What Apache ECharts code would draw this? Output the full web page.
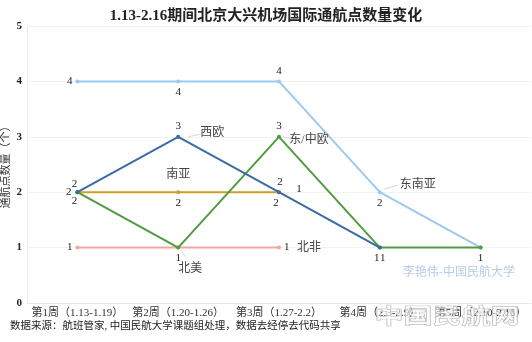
<!DOCTYPE html>
<html><head><meta charset="utf-8">
<script src="https://cdn.jsdelivr.net/npm/echarts@6/dist/echarts.min.js"></script>
<style>html,body{margin:0;padding:0;background:#fff}#c{width:532px;height:342px}</style>
</head><body><div id="c"></div>
<script>
var categories = ['第1周（1.13-1.19）','第2周（1.20-1.26）','第3周（1.27-2.2）','第4周（2.3-2.9）','第5周（2.10-2.16）'];
var seaValues = [4, 4, 4, 2, 1];         // 东南亚
var westEuValues = [2, 3, 2, 1, null];   // 西欧
var eastEuValues = [2, 1, 3, 1, 1];      // 东/中欧
var southAsiaValues = [2, 2, 2, null, null]; // 南亚
var northAfricaValues = [1, 1, 1, null, null]; // 北非
var yTicks = [0, 1, 2, 3, 4, 5];

var serif = '"Liberation Serif","Noto Sans CJK SC",serif';
var chart = echarts.init(document.getElementById('c'));

// label settings per point: [show, position, offsetX, offsetY]
function mkSeries(name, data, color, lab, z){
  return {
    name: name, type: 'line', z: z,
    data: data.map(function(v,i){
      if (v == null) return null;
      var L = lab[i] || [false];
      return {value: v, label: {show: L[0], position: L[1] || 'top', offset: [L[2] || 0, L[3] || 0]}};
    }),
    symbol: 'circle', symbolSize: 4,
    lineStyle: {color: color, width: 2}, itemStyle: {color: color},
    label: {show: true, fontFamily: serif, fontSize: 11, color: '#222', distance: 3}
  };
}

chart.setOption({
  animation: false,
  title: {text: '1.13-2.16期间北京大兴机场国际通航点数量变化', left: 'center', top: 4,
    textStyle: {fontFamily: serif, fontSize: 15, fontWeight: 'bold', color: '#222'}},
  grid: {left: 27, right: 1, top: 26, bottom: 39, outerBoundsMode: 'none', containLabel: false},
  xAxis: {type: 'category', data: categories, boundaryGap: true,
    axisLine: {lineStyle: {color: '#e8e8e8'}}, axisTick: {show: false},
    axisLabel: {fontFamily: serif, fontSize: 11, color: '#333', margin: 5, interval: 0}},
  yAxis: {type: 'value', min: 0, max: 5, interval: 1,
    name: '通航点数量（个）', nameLocation: 'middle', nameGap: 15, nameRotate: 90, nameMoveOverlap: false,
    nameTextStyle: {fontFamily: serif, fontSize: 11, color: '#333'},
    axisLine: {show: true, lineStyle: {color: '#eeeeee'}}, axisTick: {show: false},
    splitLine: {lineStyle: {color: '#f2f2f2'}},
    axisLabel: {fontFamily: serif, fontSize: 11, fontWeight: 'bold', color: '#222', margin: 5,
      formatter: function(v){ return yTicks.indexOf(v) >= 0 ? String(v) : ''; }}},
  series: [
    mkSeries('东南亚', seaValues, '#9ccaee',
      [[true,'left'],[true,'bottom'],[true,'top'],[true,'bottom'],[true,'bottom']], 2),
    mkSeries('北非', northAfricaValues, '#f7a3a3',
      [[true,'left'],[false],[true,'right']], 1),
    mkSeries('南亚', southAsiaValues, '#c9a227',
      [[true,'left',-1,0],[true,'bottom'],[true,'bottom',-3,0]], 3),
    mkSeries('东/中欧', eastEuValues, '#4e9c3e',
      [[true,'bottom',-3,-2],[true,'bottom'],[true,'top'],[true,'bottom',3,0],[false]], 4),
    mkSeries('西欧', westEuValues, '#3b6ba3',
      [[true,'top',-3,2],[true,'top'],[true,'top',1,0],[true,'bottom',-3,0]], 5)
  ]
});

var notes = [
  ['西欧', 1, 3, 34, -4],
  ['南亚', 1, 2, 0, -17],
  ['东/中欧', 2, 3, 30, 3],
  ['东南亚', 3, 2, 38, -7],
  ['北美', 1, 1, 12, 21],
  ['北非', 2, 1, 30, 0],
  ['1', 2, 2, 20, -3]
];
var g = notes.map(function(n){
  var p = chart.convertToPixel({gridIndex: 0}, [n[1], n[2]]);
  return {type: 'text', x: p[0] + n[3], y: p[1] + n[4], z: 10,
    style: {text: n[0], font: (n[0] === '1' ? '11px ' : '12px ') + serif, fill: n[0] === '1' ? '#222' : '#444',
      align: 'center', verticalAlign: 'middle'}};
});
// faint leader lines
var leaders = [[1, 3, 10, 0, 24, -3], [3, 2, 4, -3, 18, -7], [1, 1, 3, 3, 8, 10], [2, 3, 4, 0, 14, 2]];
leaders.forEach(function(l){
  var p = chart.convertToPixel({gridIndex: 0}, [l[0], l[1]]);
  g.push({type: 'line', shape: {x1: p[0] + l[2], y1: p[1] + l[3], x2: p[0] + l[4], y2: p[1] + l[5]},
    style: {stroke: '#d8d8d8', lineWidth: 1}, z: 9});
});
g.push({type: 'text', left: 10, top: 321,
  style: {text: '数据来源：航班管家, 中国民航大学课题组处理，数据去经停去代码共享', font: '10.5px ' + serif, fill: '#222'}});
g.push({type: 'text', right: 17, top: 265,
  style: {text: '李艳伟-中国民航大学', font: '12px "Noto Sans CJK SC"', fill: '#b5cbe8'}});
g.push({type: 'text', x: 447, y: 315, scaleY: 0.72,
  style: {text: '中国民航网', font: 'bold 29px "Noto Sans CJK SC"', fill: 'rgba(255,255,255,0.55)', stroke: '#b0b0b0', lineWidth: 1,
    align: 'center', verticalAlign: 'middle'}, z: 20});
chart.setOption({graphic: g});
</script>
</body></html>
